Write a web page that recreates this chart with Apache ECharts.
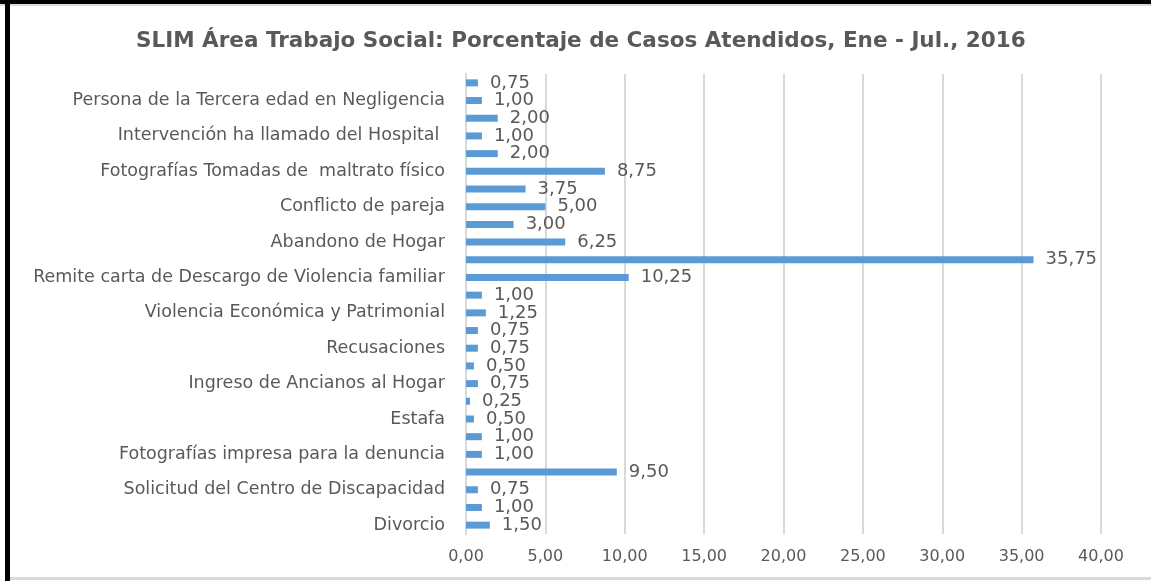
<!DOCTYPE html>
<html>
<head>
<meta charset="utf-8">
<script src="https://cdn.jsdelivr.net/npm/echarts@6/dist/echarts.min.js"></script>
<style>
  html, body { margin: 0; padding: 0; background: #fff; }
  #chart { width: 1151px; height: 581px; }
</style>
</head>
<body>
<div id="chart"></div>
<script>
// Categories from bottom to top; unnamed rows keep an empty label
const categories = [
  'Divorcio', '',
  'Solicitud del Centro de Discapacidad', '',
  'Fotografías impresa para la denuncia', '',
  'Estafa', '',
  'Ingreso de Ancianos al Hogar', '',
  'Recusaciones', '',
  'Violencia Económica y Patrimonial', '',
  'Remite carta de Descargo de Violencia familiar', '',
  'Abandono de Hogar', '',
  'Conflicto de pareja', '',
  'Fotografías Tomadas de  maltrato físico', '',
  'Intervención ha llamado del Hospital ', '',
  'Persona de la Tercera edad en Negligencia', ''
];

// Percentage of cases attended, same order as categories
const percentages = [
  1.50, 1.00,
  0.75, 9.50,
  1.00, 1.00,
  0.50, 0.25,
  0.75, 0.50,
  0.75, 0.75,
  1.25, 1.00,
  10.25, 35.75,
  6.25, 3.00,
  5.00, 3.75,
  8.75, 2.00,
  1.00, 2.00,
  1.00, 0.75
];

const xTicks = { min: 0, max: 40, interval: 5 };

const titleText = 'SLIM Área Trabajo Social: Porcentaje de Casos Atendidos, Ene - Jul., 2016';

const fmt = v => Number(v).toFixed(2).replace('.', ',');
const textColor = '#595959';
const font = '"DejaVu Sans", Verdana, sans-serif';

const chart = echarts.init(document.getElementById('chart'), null, { renderer: 'canvas' });

chart.setOption({
  backgroundColor: '#ffffff',
  animation: false,
  title: {
    text: titleText,
    left: 131,
    top: 25,
    textStyle: { fontFamily: font, fontSize: 21.5, fontWeight: 'bold', color: textColor }
  },
  graphic: [
    // frame lines around the chart area
    { type: 'rect', shape: { x: 0, y: 0, width: 1151, height: 4 }, style: { fill: '#000' }, silent: true },
    { type: 'rect', shape: { x: 0, y: 4, width: 1151, height: 2 }, style: { fill: '#d9d9d9' }, silent: true },
    { type: 'rect', shape: { x: 5, y: 0, width: 5, height: 581 }, style: { fill: '#000' }, silent: true },
    { type: 'rect', shape: { x: 10, y: 577, width: 1141, height: 3 }, style: { fill: '#d9d9d9' }, silent: true }
  ],
  grid: { left: 466, right: 50, top: 74, bottom: 47, containLabel: false },
  xAxis: {
    type: 'value',
    min: xTicks.min,
    max: xTicks.max,
    interval: xTicks.interval,
    axisLine: { show: false },
    axisTick: { show: false },
    splitLine: { show: true, lineStyle: { color: '#d9d9d9', width: 2 } },
    axisLabel: {
      formatter: fmt,
      color: textColor,
      fontFamily: font,
      fontSize: 16,
      margin: 15
    }
  },
  yAxis: {
    type: 'category',
    data: categories,
    axisLine: { show: true, lineStyle: { color: '#d9d9d9', width: 2 } },
    axisTick: { show: false },
    axisLabel: {
      interval: 0,
      color: textColor,
      fontFamily: font,
      fontSize: 17.5,
      margin: 21
    }
  },
  series: [{
    type: 'bar',
    data: percentages,
    barWidth: 7,
    itemStyle: { color: '#5b9bd5' },
    label: {
      show: true,
      position: 'right',
      distance: 12,
      formatter: p => fmt(p.value),
      color: textColor,
      fontFamily: font,
      fontSize: 18
    }
  }]
});
</script>
</body>
</html>
